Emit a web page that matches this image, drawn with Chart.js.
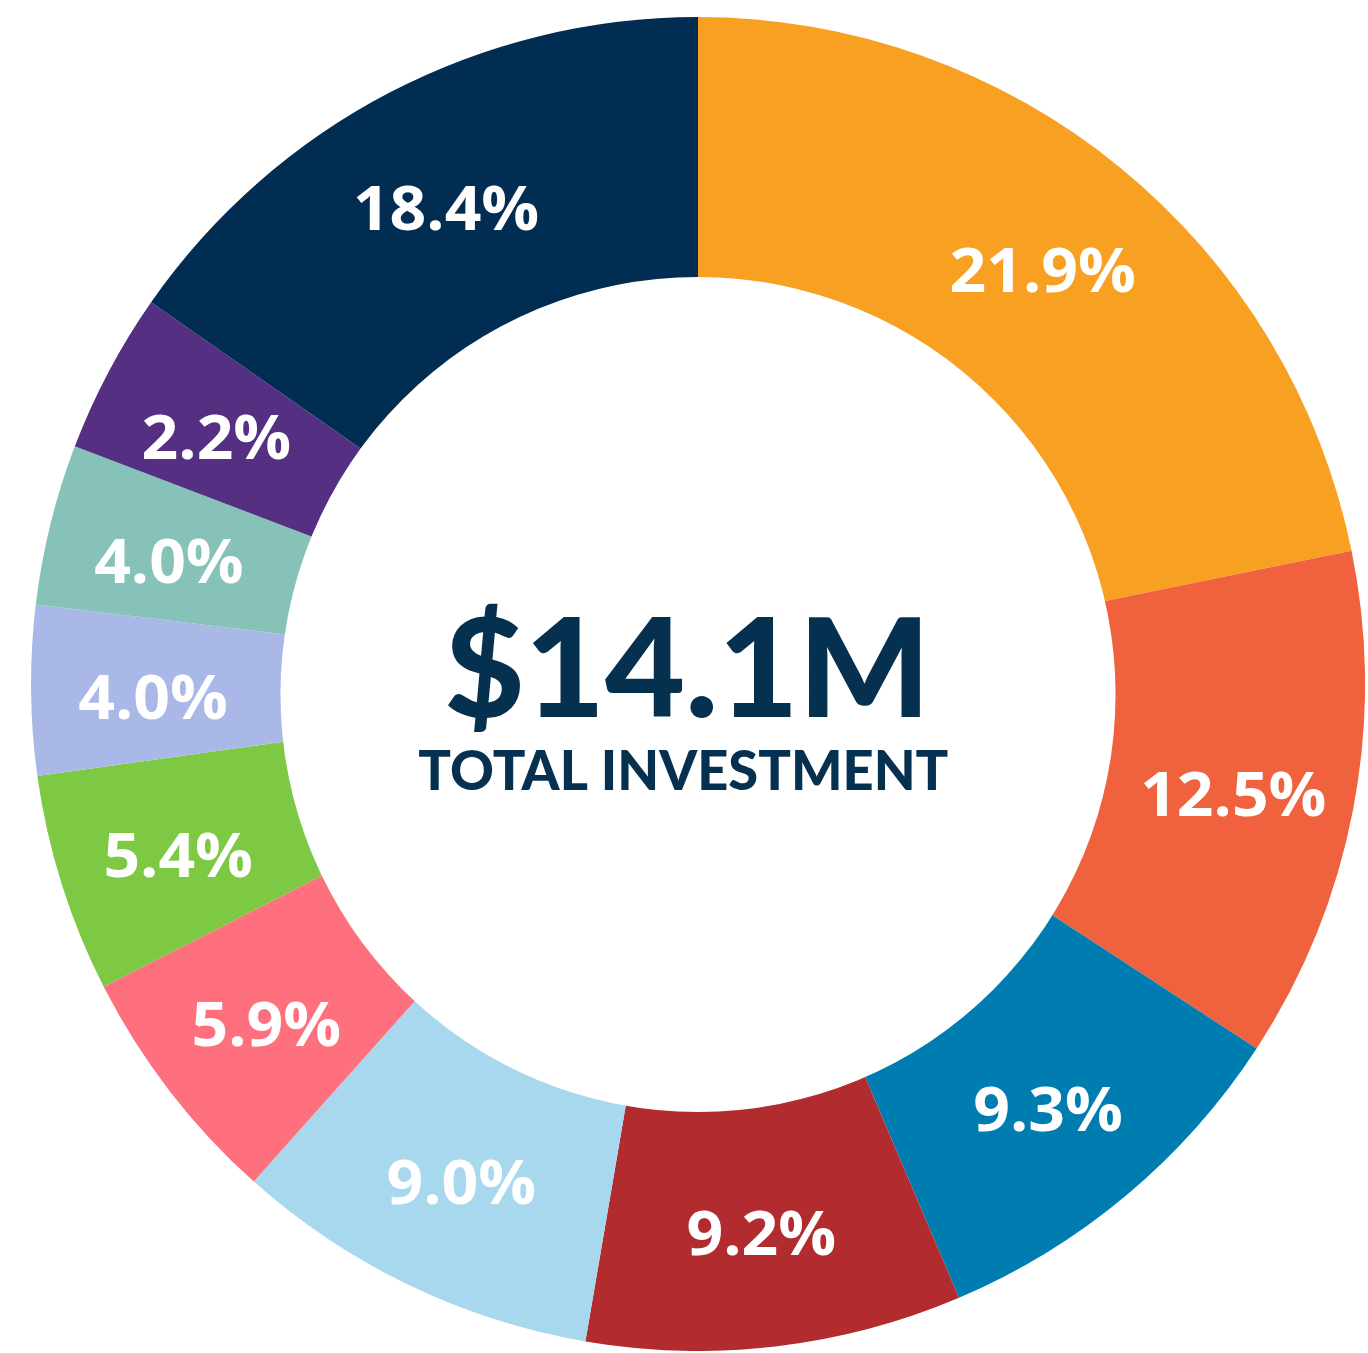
<!DOCTYPE html>
<html>
<head>
<meta charset="utf-8">
<script src="https://cdn.jsdelivr.net/npm/chart.js@4"></script>
<style>
  html, body { margin: 0; padding: 0; background: #fff; overflow: hidden; }
  body { width: 1368px; height: 1353px; position: relative; }
  #wrap { position: absolute; left: 31px; top: 17px; width: 1334px; height: 1334px; }
</style>
</head>
<body>
<div id="wrap"><canvas id="investChart"></canvas></div>
<script>
// slice shares as drawn (clockwise from 12 o'clock)
const shares = [21.8, 12.4, 9.4, 9.1, 8.9, 5.9, 5.3, 4.1, 3.9, 3.9, 15.3];
// labels printed on the slices
const sliceLabels = ['21.9%', '12.5%', '9.3%', '9.2%', '9.0%', '5.9%', '5.4%', '4.0%', '4.0%', '2.2%', '18.4%'];
const sliceColors = ['#F7A021', '#EF623D', '#007DB0', '#B22B2E', '#A8D8EE', '#FF707E',
                     '#7DC943', '#A9B8E6', '#86C2B8', '#542F82', '#002D51'];
const totalText = '$14.1M';
const subText = 'TOTAL INVESTMENT';

const navy = '#06304F';

// draws text scaled horizontally, either to a width or by a factor
function fitText(ctx, text, cx, y, width, factor) {
    const w = ctx.measureText(text).width;
    const sx = width ? width / w : factor;
    ctx.save();
    ctx.translate(cx, y);
    ctx.scale(sx, 1);
    ctx.textAlign = 'center';
    ctx.fillText(text, 0, 0);
    ctx.restore();
}

const ringPlugin = {
    id: 'ring',
    afterDatasetsDraw(chart) {
        const ctx = chart.ctx;
        const arcs = chart.getDatasetMeta(0).data;
        const cx = arcs[0].x, cy = arcs[0].y, R = arcs[0].outerRadius;
        // the hole sits a bit lower than the pie centre
        const hy = cy + R * 0.0157;

        ctx.save();
        ctx.fillStyle = '#ffffff';
        ctx.beginPath();
        ctx.arc(cx, hy, R * 0.626, 0, Math.PI * 2);
        ctx.fill();

        // slice labels, centred in the ring
        ctx.fillStyle = '#ffffff';
        ctx.font = '700 60px "Open Sans", sans-serif';
        ctx.textBaseline = 'middle';
        arcs.forEach((arc, i) => {
            const mid = (arc.startAngle + arc.endAngle) / 2;
            const r = R * 0.817;
            fitText(ctx, sliceLabels[i], cx + Math.cos(mid) * r, hy + Math.sin(mid) * r + 2, 0, 1.07);
        });

        // centre text
        ctx.fillStyle = navy;
        ctx.textBaseline = 'alphabetic';
        ctx.font = '900 138px Lato, "DejaVu Sans", sans-serif';
        fitText(ctx, totalText, cx - R * 0.016, cy + R * 0.049, 486);
        ctx.font = '900 56px Lato, "DejaVu Sans", sans-serif';
        fitText(ctx, subText, cx - R * 0.022, cy + R * 0.159, 530);
        ctx.restore();
    }
};

new Chart(document.getElementById('investChart').getContext('2d'), {
    type: 'pie',
    data: {
        labels: sliceLabels,
        datasets: [{
            data: shares,
            backgroundColor: sliceColors,
            borderWidth: 0
        }]
    },
    options: {
        responsive: true,
        maintainAspectRatio: false,
        animation: false,
        layout: { padding: 0 },
        plugins: {
            legend: { display: false },
            tooltip: { enabled: false }
        }
    },
    plugins: [ringPlugin]
});
</script>
</body>
</html>
